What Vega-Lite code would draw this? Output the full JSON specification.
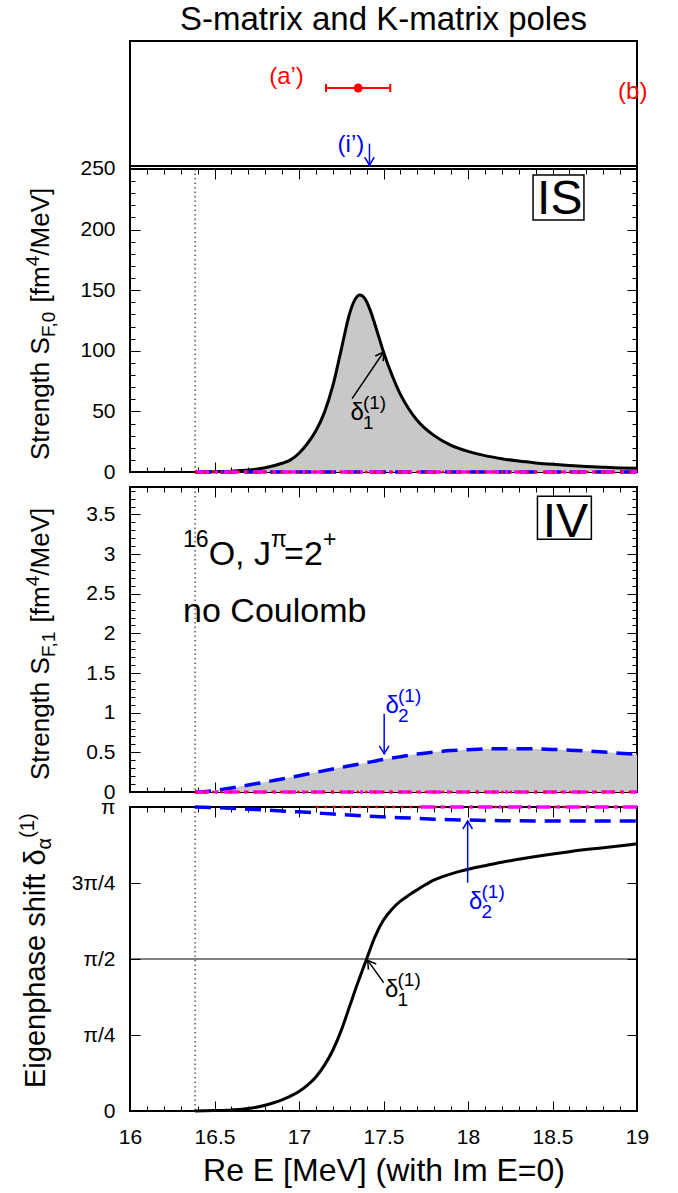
{
"$schema": "https://vega.github.io/schema/vega-lite/v6.json",
"padding": {"left": 16, "top": 3, "right": 5, "bottom": 5},
"config": {
  "font": "Liberation Sans",
  "view": {"stroke": "#000000", "strokeWidth": 2},
  "axis": {"domain": false, "grid": false, "tickColor": "#000000", "tickWidth": 1, "labelColor": "#000000", "labelFont": "Liberation Sans", "labelFontSize": 21, "labelFlush": false, "labelOverlap": false, "titleFont": "Liberation Sans", "titleFontWeight": "normal", "titleColor": "#000000", "zindex": 1},
  "text": {"font": "Liberation Sans"}
},
"datasets": {
  "is": [{"E":16.385,"v":0},{"E":16.45,"v":0.1},{"E":16.5,"v":0.3},{"E":16.6,"v":0.7},{"E":16.7,"v":1.6},{"E":16.8,"v":3.5},{"E":16.9,"v":7.2},{"E":16.95,"v":10},{"E":17.0,"v":15.5},{"E":17.05,"v":23.5},{"E":17.1,"v":34},{"E":17.15,"v":49},{"E":17.2,"v":71},{"E":17.25,"v":101},{"E":17.3,"v":131},{"E":17.33,"v":142},{"E":17.36,"v":146},{"E":17.39,"v":143},{"E":17.42,"v":134},{"E":17.46,"v":117},{"E":17.5,"v":99},{"E":17.55,"v":80},{"E":17.6,"v":64},{"E":17.65,"v":52},{"E":17.7,"v":42.5},{"E":17.8,"v":30},{"E":17.9,"v":22},{"E":18.0,"v":17},{"E":18.1,"v":13.5},{"E":18.2,"v":11},{"E":18.3,"v":9},{"E":18.4,"v":7.5},{"E":18.5,"v":6.3},{"E":18.6,"v":5.3},{"E":18.7,"v":4.5},{"E":18.8,"v":3.9},{"E":18.9,"v":3.4},{"E":19.0,"v":3.0}],
  "iv": [{"E":16.385,"v":0},{"E":16.45,"v":0.006},{"E":16.5,"v":0.018},{"E":16.6,"v":0.05},{"E":16.7,"v":0.088},{"E":16.8,"v":0.125},{"E":16.9,"v":0.165},{"E":17.0,"v":0.205},{"E":17.1,"v":0.248},{"E":17.2,"v":0.29},{"E":17.3,"v":0.33},{"E":17.4,"v":0.37},{"E":17.5,"v":0.41},{"E":17.6,"v":0.445},{"E":17.7,"v":0.478},{"E":17.8,"v":0.503},{"E":17.9,"v":0.522},{"E":18.0,"v":0.534},{"E":18.1,"v":0.542},{"E":18.2,"v":0.546},{"E":18.3,"v":0.546},{"E":18.4,"v":0.543},{"E":18.5,"v":0.537},{"E":18.6,"v":0.528},{"E":18.7,"v":0.517},{"E":18.8,"v":0.504},{"E":18.9,"v":0.49},{"E":19.0,"v":0.474}],
  "ph1": [{"E":16.385,"v":0},{"E":16.5,"v":0.0047},{"E":16.6,"v":0.011},{"E":16.7,"v":0.025},{"E":16.8,"v":0.06},{"E":16.85,"v":0.085},{"E":16.9,"v":0.116},{"E":16.95,"v":0.154},{"E":17.0,"v":0.201},{"E":17.05,"v":0.267},{"E":17.1,"v":0.352},{"E":17.15,"v":0.471},{"E":17.2,"v":0.628},{"E":17.25,"v":0.833},{"E":17.3,"v":1.084},{"E":17.35,"v":1.335},{"E":17.4,"v":1.571},{"E":17.45,"v":1.803},{"E":17.5,"v":1.973},{"E":17.55,"v":2.086},{"E":17.6,"v":2.168},{"E":17.65,"v":2.231},{"E":17.7,"v":2.287},{"E":17.75,"v":2.340},{"E":17.8,"v":2.388},{"E":17.85,"v":2.422},{"E":17.9,"v":2.450},{"E":17.95,"v":2.476},{"E":18.0,"v":2.498},{"E":18.1,"v":2.535},{"E":18.2,"v":2.570},{"E":18.3,"v":2.601},{"E":18.4,"v":2.630},{"E":18.6,"v":2.680},{"E":18.8,"v":2.721},{"E":19.0,"v":2.761}],
  "ph2": [{"E":16.385,"v":3.1416},{"E":16.5,"v":3.1353},{"E":16.6,"v":3.129},{"E":16.8,"v":3.1102},{"E":17.0,"v":3.0913},{"E":17.2,"v":3.0693},{"E":17.4,"v":3.0473},{"E":17.6,"v":3.0316},{"E":17.8,"v":3.0159},{"E":18.0,"v":3.0065},{"E":18.2,"v":3.0002},{"E":18.5,"v":2.9971},{"E":19.0,"v":2.9971}],
  "zero": [{"E":16.385,"v":0},{"E":19,"v":0}],
  "pir": [{"E":17.1,"v":3.1416},{"E":19,"v":3.1416}],
  "pim": [{"E":17.72,"v":3.1416},{"E":19,"v":3.1416}],
  "ends": [{"E":16,"v":0},{"E":19,"v":0}],
  "pole": [{"E":17.35,"lo":17.16,"hi":17.54,"y":316.8}]
},
"bounds": "flush",
"spacing": 15,
"vconcat": [
{
  "width": 507, "height": 431,
  "title": {"text": "S-matrix and K-matrix poles", "fontSize": 33, "font": "Liberation Sans", "fontWeight": "normal", "color": "#000000", "anchor": "middle", "frame": "group", "offset": 4},
  "resolve": {"axis": {"x": "independent", "y": "independent"}},
  "layer": [
    {"data": {"name": "is"}, "mark": {"type": "area", "color": "#c8c8c8", "opacity": 1, "interpolate": "monotone"},
     "encoding": {"x": {"field": "E", "type": "quantitative", "scale": {"domain": [16,19], "nice": false, "zero": false}, "axis": null},
                  "y": {"field": "v", "type": "quantitative", "scale": {"domain": [0,355.6], "nice": false, "zero": false}, "axis": null}}},
    {"data": {"values": [{}]}, "mark": {"type": "rule", "color": "#000000", "strokeWidth": 1, "strokeDash": [1.5,3]},
     "encoding": {"x": {"datum": 16.385, "type": "quantitative", "axis": null}, "y": {"datum": 0, "type": "quantitative", "axis": null}, "y2": {"datum": 250}}},
    {"data": {"name": "is"}, "mark": {"type": "line", "color": "#000000", "strokeWidth": 3, "interpolate": "monotone"},
     "encoding": {"x": {"field": "E", "type": "quantitative", "axis": null}, "y": {"field": "v", "type": "quantitative", "axis": null}}},
    {"data": {"name": "zero"}, "mark": {"type": "line", "color": "#0000ff", "strokeWidth": 3.5, "strokeDash": [16,9]},
     "encoding": {"x": {"field": "E", "type": "quantitative", "axis": null}, "y": {"field": "v", "type": "quantitative", "axis": null}}},
    {"data": {"name": "zero"}, "mark": {"type": "line", "color": "#ff00ff", "strokeWidth": 3.5, "strokeDash": [14,6,3,6]},
     "encoding": {"x": {"field": "E", "type": "quantitative", "axis": null}, "y": {"field": "v", "type": "quantitative", "axis": null}}},
    {"data": {"name": "zero"}, "mark": {"type": "line", "color": "#ff0000", "strokeWidth": 2.5, "strokeDash": [2.5,6]},
     "encoding": {"x": {"field": "E", "type": "quantitative", "axis": null}, "y": {"field": "v", "type": "quantitative", "axis": null}}},
    {"data": {"values": [{}]}, "mark": {"type": "rule", "color": "#000000", "strokeWidth": 2},
     "encoding": {"y": {"datum": 250, "type": "quantitative", "axis": null}}},
    {"data": {"values": [{}]}, "mark": {"type": "rule", "color": "#000000", "strokeWidth": 2},
     "encoding": {"y": {"datum": 252.5, "type": "quantitative", "axis": null}}},
    {"data": {"name": "pole"}, "mark": {"type": "rule", "color": "#ff0000", "strokeWidth": 2},
     "encoding": {"x": {"field": "lo", "type": "quantitative", "axis": null}, "x2": {"field": "hi"}, "y": {"field": "y", "type": "quantitative", "axis": null}}},
    {"data": {"name": "pole"}, "mark": {"type": "point", "shape": "M0,-1L0,1", "size": 64, "color": "#ff0000", "strokeWidth": 2, "filled": false, "opacity": 1},
     "encoding": {"x": {"field": "lo", "type": "quantitative", "axis": null}, "y": {"field": "y", "type": "quantitative", "axis": null}}},
    {"data": {"name": "pole"}, "mark": {"type": "point", "shape": "M0,-1L0,1", "size": 64, "color": "#ff0000", "strokeWidth": 2, "filled": false, "opacity": 1},
     "encoding": {"x": {"field": "hi", "type": "quantitative", "axis": null}, "y": {"field": "y", "type": "quantitative", "axis": null}}},
    {"data": {"name": "pole"}, "mark": {"type": "circle", "color": "#ff0000", "size": 80, "opacity": 1},
     "encoding": {"x": {"field": "E", "type": "quantitative", "axis": null}, "y": {"field": "y", "type": "quantitative", "axis": null}}},
    {"data": {"values": [{}]}, "mark": {"type": "text", "text": "(a’)", "color": "#ff0000", "fontSize": 24, "align": "center", "baseline": "middle"},
     "encoding": {"x": {"datum": 16.926, "type": "quantitative", "axis": null}, "y": {"datum": 325.9, "type": "quantitative", "axis": null}}},
    {"data": {"values": [{}]}, "mark": {"type": "text", "text": "(b)", "color": "#ff0000", "fontSize": 24, "align": "center", "baseline": "middle"},
     "encoding": {"x": {"datum": 18.975, "type": "quantitative", "axis": null}, "y": {"datum": 313.5, "type": "quantitative", "axis": null}}},
    {"data": {"values": [{}]}, "mark": {"type": "text", "text": "(i’)", "color": "#0000ff", "fontSize": 24, "align": "center", "baseline": "middle"},
     "encoding": {"x": {"datum": 17.307, "type": "quantitative", "axis": null}, "y": {"datum": 270.2, "type": "quantitative", "axis": null}}},
    {"data": {"values": [{}]}, "mark": {"type": "rule", "color": "#0000ff", "strokeWidth": 1.5},
     "encoding": {"x": {"datum": 17.417, "type": "quantitative", "axis": null}, "y": {"datum": 270.9, "type": "quantitative", "axis": null}, "y2": {"datum": 253.1}}},
    {"data": {"values": [{}]}, "mark": {"type": "point", "shape": "M-0.6,-1L0,0L0.6,-1", "size": 256, "angle": 0, "color": "#0000ff", "strokeWidth": 1.5, "filled": false, "opacity": 1},
     "encoding": {"x": {"datum": 17.417, "type": "quantitative", "axis": null}, "y": {"datum": 253.1, "type": "quantitative", "axis": null}}},
    {"data": {"values": [{}]}, "mark": {"type": "rect", "fill": "#ffffff", "stroke": "#000000", "strokeWidth": 1.5},
     "encoding": {"x": {"datum": 18.385, "type": "quantitative", "axis": null}, "x2": {"datum": 18.686}, "y": {"datum": 207.9, "type": "quantitative", "axis": null}, "y2": {"datum": 245.05}}},
    {"data": {"values": [{}]}, "mark": {"type": "text", "text": "IS", "color": "#000000", "fontSize": 48, "align": "center", "baseline": "alphabetic"},
     "encoding": {"x": {"datum": 18.543, "type": "quantitative", "axis": null}, "y": {"datum": 213.1, "type": "quantitative", "axis": null}}},
    {"data": {"values": [{}]}, "mark": {"type": "text", "text": "δ", "color": "#000000", "fontSize": 24, "align": "left", "baseline": "alphabetic"},
     "encoding": {"x": {"datum": 17.304, "type": "quantitative", "axis": null}, "y": {"datum": 42.9, "type": "quantitative", "axis": null}}},
    {"data": {"values": [{}]}, "mark": {"type": "text", "text": "1", "color": "#000000", "fontSize": 19, "align": "left", "baseline": "alphabetic", "dx": 12.5, "dy": 9},
     "encoding": {"x": {"datum": 17.304, "type": "quantitative", "axis": null}, "y": {"datum": 42.9, "type": "quantitative", "axis": null}}},
    {"data": {"values": [{}]}, "mark": {"type": "text", "text": "(1)", "color": "#000000", "fontSize": 19, "align": "left", "baseline": "alphabetic", "dx": 12.5, "dy": -11},
     "encoding": {"x": {"datum": 17.304, "type": "quantitative", "axis": null}, "y": {"datum": 42.9, "type": "quantitative", "axis": null}}},
    {"data": {"values": [{}]}, "mark": {"type": "rule", "color": "#000000", "strokeWidth": 1.5},
     "encoding": {"x": {"datum": 17.314, "type": "quantitative", "axis": null}, "x2": {"datum": 17.501}, "y": {"datum": 60.5, "type": "quantitative", "axis": null}, "y2": {"datum": 99.0}}},
    {"data": {"values": [{}]}, "mark": {"type": "point", "shape": "M-0.6,-1L0,0L0.6,-1", "size": 256, "angle": 214, "color": "#000000", "strokeWidth": 1.5, "filled": false, "opacity": 1},
     "encoding": {"x": {"datum": 17.501, "type": "quantitative", "axis": null}, "y": {"datum": 99.0, "type": "quantitative", "axis": null}}},
    {"data": {"values": [{}]}, "mark": {"type": "text", "text": "Strength S", "color": "#000000", "fontSize": 26, "angle": 270, "align": "left", "baseline": "alphabetic", "dx": 12, "dy": -81},
     "encoding": {"x": {"datum": 16, "type": "quantitative", "axis": null}, "y": {"datum": 0, "type": "quantitative", "axis": null}}},
    {"data": {"values": [{}]}, "mark": {"type": "text", "text": "F,0", "color": "#000000", "fontSize": 19, "angle": 270, "align": "left", "baseline": "alphabetic", "dx": 134.9, "dy": -75},
     "encoding": {"x": {"datum": 16, "type": "quantitative", "axis": null}, "y": {"datum": 0, "type": "quantitative", "axis": null}}},
    {"data": {"values": [{}]}, "mark": {"type": "text", "text": "[fm", "color": "#000000", "fontSize": 26, "angle": 270, "align": "left", "baseline": "alphabetic", "dx": 169.6, "dy": -81},
     "encoding": {"x": {"datum": 16, "type": "quantitative", "axis": null}, "y": {"datum": 0, "type": "quantitative", "axis": null}}},
    {"data": {"values": [{}]}, "mark": {"type": "text", "text": "4", "color": "#000000", "fontSize": 19, "angle": 270, "align": "left", "baseline": "alphabetic", "dx": 205.7, "dy": -91},
     "encoding": {"x": {"datum": 16, "type": "quantitative", "axis": null}, "y": {"datum": 0, "type": "quantitative", "axis": null}}},
    {"data": {"values": [{}]}, "mark": {"type": "text", "text": "/MeV]", "color": "#000000", "fontSize": 26, "angle": 270, "align": "left", "baseline": "alphabetic", "dx": 216.3, "dy": -81},
     "encoding": {"x": {"datum": 16, "type": "quantitative", "axis": null}, "y": {"datum": 0, "type": "quantitative", "axis": null}}},
    {"data": {"name": "ends"}, "mark": {"type": "point", "opacity": 0},
     "encoding": {"x": {"field": "E", "type": "quantitative", "scale": {"domain": [16,19], "nice": false, "zero": false}, "axis": {"orient": "bottom", "values": [16,16.5,17,17.5,18,18.5,19], "tickSize": -10, "labels": false, "title": null}},
                  "y": {"field": "v", "type": "quantitative", "scale": {"domain": [0,355.6], "nice": false, "zero": false}, "axis": {"orient": "left", "values": [0,50,100,150,200,250], "tickSize": -10, "labelPadding": 25, "labelExpr": "'' + datum.value", "title": null}}}},
    {"data": {"name": "ends"}, "mark": {"type": "point", "opacity": 0},
     "encoding": {"x": {"field": "E", "type": "quantitative", "axis": {"orient": "bottom", "values": [16.1,16.2,16.3,16.4,16.6,16.7,16.8,16.9,17.1,17.2,17.3,17.4,17.6,17.7,17.8,17.9,18.1,18.2,18.3,18.4,18.6,18.7,18.8,18.9], "tickSize": -5, "labels": false, "title": null}},
                  "y": {"field": "v", "type": "quantitative", "axis": {"orient": "left", "values": [10,20,30,40,60,70,80,90,110,120,130,140,160,170,180,190,210,220,230,240], "tickSize": -5, "labels": false, "title": null}}}},
    {"data": {"name": "ends"}, "mark": {"type": "point", "opacity": 0},
     "encoding": {"x": {"field": "E", "type": "quantitative", "axis": {"orient": "top", "offset": -128, "values": [16,16.5,17,17.5,18,18.5,19], "tickSize": -10, "labels": false, "title": null}},
                  "y": {"field": "v", "type": "quantitative", "axis": {"orient": "right", "values": [0,50,100,150,200,250], "tickSize": -10, "labels": false, "title": null}}}},
    {"data": {"name": "ends"}, "mark": {"type": "point", "opacity": 0},
     "encoding": {"x": {"field": "E", "type": "quantitative", "axis": {"orient": "top", "offset": -128, "values": [16.1,16.2,16.3,16.4,16.6,16.7,16.8,16.9,17.1,17.2,17.3,17.4,17.6,17.7,17.8,17.9,18.1,18.2,18.3,18.4,18.6,18.7,18.8,18.9], "tickSize": -5, "labels": false, "title": null}},
                  "y": {"field": "v", "type": "quantitative", "axis": {"orient": "right", "values": [10,20,30,40,60,70,80,90,110,120,130,140,160,170,180,190,210,220,230,240], "tickSize": -5, "labels": false, "title": null}}}}
  ]
},
{
  "width": 507, "height": 305,
  "resolve": {"axis": {"x": "independent", "y": "independent"}},
  "layer": [
    {"data": {"name": "iv"}, "mark": {"type": "area", "color": "#c8c8c8", "opacity": 1, "interpolate": "monotone"},
     "encoding": {"x": {"field": "E", "type": "quantitative", "scale": {"domain": [16,19], "nice": false, "zero": false}, "axis": null},
                  "y": {"field": "v", "type": "quantitative", "scale": {"domain": [0,3.846], "nice": false, "zero": false}, "axis": null}}},
    {"data": {"values": [{}]}, "mark": {"type": "rule", "color": "#000000", "strokeWidth": 1, "strokeDash": [1.5,3]},
     "encoding": {"x": {"datum": 16.385, "type": "quantitative", "axis": null}}},
    {"data": {"name": "iv"}, "mark": {"type": "line", "color": "#0000ff", "strokeWidth": 3.5, "strokeDash": [16,9], "interpolate": "monotone"},
     "encoding": {"x": {"field": "E", "type": "quantitative", "axis": null}, "y": {"field": "v", "type": "quantitative", "axis": null}}},
    {"data": {"name": "zero"}, "mark": {"type": "line", "color": "#ff00ff", "strokeWidth": 3.5, "strokeDash": [14,6,3,6]},
     "encoding": {"x": {"field": "E", "type": "quantitative", "axis": null}, "y": {"field": "v", "type": "quantitative", "axis": null}}},
    {"data": {"name": "zero"}, "mark": {"type": "line", "color": "#ff0000", "strokeWidth": 2.5, "strokeDash": [2.5,6]},
     "encoding": {"x": {"field": "E", "type": "quantitative", "axis": null}, "y": {"field": "v", "type": "quantitative", "axis": null}}},
    {"data": {"values": [{}]}, "mark": {"type": "rect", "fill": "#ffffff", "stroke": "#000000", "strokeWidth": 1.5},
     "encoding": {"x": {"datum": 18.411, "type": "quantitative", "axis": null}, "x2": {"datum": 18.73}, "y": {"datum": 3.186, "type": "quantitative", "axis": null}, "y2": {"datum": 3.728}}},
    {"data": {"values": [{}]}, "mark": {"type": "text", "text": "IV", "color": "#000000", "fontSize": 48, "align": "center", "baseline": "alphabetic"},
     "encoding": {"x": {"datum": 18.576, "type": "quantitative", "axis": null}, "y": {"datum": 3.212, "type": "quantitative", "axis": null}}},
    {"data": {"values": [{}]}, "mark": {"type": "text", "text": "16", "color": "#000000", "fontSize": 23, "align": "left", "baseline": "alphabetic", "dy": -18},
     "encoding": {"x": {"datum": 16.314, "type": "quantitative", "axis": null}, "y": {"datum": 2.859, "type": "quantitative", "axis": null}}},
    {"data": {"values": [{}]}, "mark": {"type": "text", "text": "O, J", "color": "#000000", "fontSize": 34, "align": "left", "baseline": "alphabetic", "dx": 25.6},
     "encoding": {"x": {"datum": 16.314, "type": "quantitative", "axis": null}, "y": {"datum": 2.859, "type": "quantitative", "axis": null}}},
    {"data": {"values": [{}]}, "mark": {"type": "text", "text": "π", "color": "#000000", "fontSize": 23, "align": "left", "baseline": "alphabetic", "dx": 88, "dy": -18},
     "encoding": {"x": {"datum": 16.314, "type": "quantitative", "axis": null}, "y": {"datum": 2.859, "type": "quantitative", "axis": null}}},
    {"data": {"values": [{}]}, "mark": {"type": "text", "text": "=2", "color": "#000000", "fontSize": 34, "align": "left", "baseline": "alphabetic", "dx": 101},
     "encoding": {"x": {"datum": 16.314, "type": "quantitative", "axis": null}, "y": {"datum": 2.859, "type": "quantitative", "axis": null}}},
    {"data": {"values": [{}]}, "mark": {"type": "text", "text": "+", "color": "#000000", "fontSize": 23, "align": "left", "baseline": "alphabetic", "dx": 140, "dy": -18},
     "encoding": {"x": {"datum": 16.314, "type": "quantitative", "axis": null}, "y": {"datum": 2.859, "type": "quantitative", "axis": null}}},
    {"data": {"values": [{}]}, "mark": {"type": "text", "text": "no Coulomb", "color": "#000000", "fontSize": 34, "align": "left", "baseline": "alphabetic"},
     "encoding": {"x": {"datum": 16.314, "type": "quantitative", "axis": null}, "y": {"datum": 2.141, "type": "quantitative", "axis": null}}},
    {"data": {"values": [{}]}, "mark": {"type": "text", "text": "δ", "color": "#0000ff", "fontSize": 24, "align": "left", "baseline": "alphabetic"},
     "encoding": {"x": {"datum": 17.512, "type": "quantitative", "axis": null}, "y": {"datum": 0.995, "type": "quantitative", "axis": null}}},
    {"data": {"values": [{}]}, "mark": {"type": "text", "text": "2", "color": "#0000ff", "fontSize": 19, "align": "left", "baseline": "alphabetic", "dx": 12.5, "dy": 9},
     "encoding": {"x": {"datum": 17.512, "type": "quantitative", "axis": null}, "y": {"datum": 0.995, "type": "quantitative", "axis": null}}},
    {"data": {"values": [{}]}, "mark": {"type": "text", "text": "(1)", "color": "#0000ff", "fontSize": 19, "align": "left", "baseline": "alphabetic", "dx": 12.5, "dy": -11},
     "encoding": {"x": {"datum": 17.512, "type": "quantitative", "axis": null}, "y": {"datum": 0.995, "type": "quantitative", "axis": null}}},
    {"data": {"values": [{}]}, "mark": {"type": "rule", "color": "#0000ff", "strokeWidth": 1.5},
     "encoding": {"x": {"datum": 17.504, "type": "quantitative", "axis": null}, "y": {"datum": 0.986, "type": "quantitative", "axis": null}, "y2": {"datum": 0.482}}},
    {"data": {"values": [{}]}, "mark": {"type": "point", "shape": "M-0.6,-1L0,0L0.6,-1", "size": 256, "angle": 0, "color": "#0000ff", "strokeWidth": 1.5, "filled": false, "opacity": 1},
     "encoding": {"x": {"datum": 17.504, "type": "quantitative", "axis": null}, "y": {"datum": 0.482, "type": "quantitative", "axis": null}}},
    {"data": {"values": [{}]}, "mark": {"type": "text", "text": "Strength S", "color": "#000000", "fontSize": 26, "angle": 270, "align": "left", "baseline": "alphabetic", "dx": 12, "dy": -81},
     "encoding": {"x": {"datum": 16, "type": "quantitative", "axis": null}, "y": {"datum": 0, "type": "quantitative", "axis": null}}},
    {"data": {"values": [{}]}, "mark": {"type": "text", "text": "F,1", "color": "#000000", "fontSize": 19, "angle": 270, "align": "left", "baseline": "alphabetic", "dx": 134.9, "dy": -75},
     "encoding": {"x": {"datum": 16, "type": "quantitative", "axis": null}, "y": {"datum": 0, "type": "quantitative", "axis": null}}},
    {"data": {"values": [{}]}, "mark": {"type": "text", "text": "[fm", "color": "#000000", "fontSize": 26, "angle": 270, "align": "left", "baseline": "alphabetic", "dx": 169.6, "dy": -81},
     "encoding": {"x": {"datum": 16, "type": "quantitative", "axis": null}, "y": {"datum": 0, "type": "quantitative", "axis": null}}},
    {"data": {"values": [{}]}, "mark": {"type": "text", "text": "4", "color": "#000000", "fontSize": 19, "angle": 270, "align": "left", "baseline": "alphabetic", "dx": 205.7, "dy": -91},
     "encoding": {"x": {"datum": 16, "type": "quantitative", "axis": null}, "y": {"datum": 0, "type": "quantitative", "axis": null}}},
    {"data": {"values": [{}]}, "mark": {"type": "text", "text": "/MeV]", "color": "#000000", "fontSize": 26, "angle": 270, "align": "left", "baseline": "alphabetic", "dx": 216.3, "dy": -81},
     "encoding": {"x": {"datum": 16, "type": "quantitative", "axis": null}, "y": {"datum": 0, "type": "quantitative", "axis": null}}},
    {"data": {"name": "ends"}, "mark": {"type": "point", "opacity": 0},
     "encoding": {"x": {"field": "E", "type": "quantitative", "scale": {"domain": [16,19], "nice": false, "zero": false}, "axis": {"orient": "bottom", "values": [16,16.5,17,17.5,18,18.5,19], "tickSize": -10, "labels": false, "title": null}},
                  "y": {"field": "v", "type": "quantitative", "scale": {"domain": [0,3.846], "nice": false, "zero": false}, "axis": {"orient": "left", "values": [0,0.5,1,1.5,2,2.5,3,3.5], "tickSize": -10, "labelPadding": 25, "labelExpr": "'' + datum.value", "title": null}}}},
    {"data": {"name": "ends"}, "mark": {"type": "point", "opacity": 0},
     "encoding": {"x": {"field": "E", "type": "quantitative", "axis": {"orient": "bottom", "values": [16.1,16.2,16.3,16.4,16.6,16.7,16.8,16.9,17.1,17.2,17.3,17.4,17.6,17.7,17.8,17.9,18.1,18.2,18.3,18.4,18.6,18.7,18.8,18.9], "tickSize": -5, "labels": false, "title": null}},
                  "y": {"field": "v", "type": "quantitative", "axis": {"orient": "left", "values": [0.1,0.2,0.3,0.4,0.6,0.7,0.8,0.9,1.1,1.2,1.3,1.4,1.6,1.7,1.8,1.9,2.1,2.2,2.3,2.4,2.6,2.7,2.8,2.9,3.1,3.2,3.3,3.4,3.6,3.7,3.8], "tickSize": -5, "labels": false, "title": null}}}},
    {"data": {"name": "ends"}, "mark": {"type": "point", "opacity": 0},
     "encoding": {"x": {"field": "E", "type": "quantitative", "axis": {"orient": "top", "values": [16,16.5,17,17.5,18,18.5,19], "tickSize": -10, "labels": false, "title": null}},
                  "y": {"field": "v", "type": "quantitative", "axis": {"orient": "right", "values": [0,0.5,1,1.5,2,2.5,3,3.5], "tickSize": -10, "labels": false, "title": null}}}},
    {"data": {"name": "ends"}, "mark": {"type": "point", "opacity": 0},
     "encoding": {"x": {"field": "E", "type": "quantitative", "axis": {"orient": "top", "values": [16.1,16.2,16.3,16.4,16.6,16.7,16.8,16.9,17.1,17.2,17.3,17.4,17.6,17.7,17.8,17.9,18.1,18.2,18.3,18.4,18.6,18.7,18.8,18.9], "tickSize": -5, "labels": false, "title": null}},
                  "y": {"field": "v", "type": "quantitative", "axis": {"orient": "right", "values": [0.1,0.2,0.3,0.4,0.6,0.7,0.8,0.9,1.1,1.2,1.3,1.4,1.6,1.7,1.8,1.9,2.1,2.2,2.3,2.4,2.6,2.7,2.8,2.9,3.1,3.2,3.3,3.4,3.6,3.7,3.8], "tickSize": -5, "labels": false, "title": null}}}}
  ]
},
{
  "width": 507, "height": 304,
  "resolve": {"axis": {"x": "independent", "y": "independent"}},
  "layer": [
    {"data": {"values": [{}]}, "mark": {"type": "rule", "color": "#000000", "strokeWidth": 1, "strokeDash": [1.5,3]},
     "encoding": {"x": {"datum": 16.385, "type": "quantitative", "scale": {"domain": [16,19], "nice": false, "zero": false}, "axis": null}}},
    {"data": {"values": [{}]}, "mark": {"type": "rule", "color": "#000000", "strokeWidth": 1},
     "encoding": {"y": {"datum": 1.5707963, "type": "quantitative", "scale": {"domain": [0,3.1415927], "nice": false, "zero": false}, "axis": null}}},
    {"data": {"name": "ph1"}, "mark": {"type": "line", "color": "#000000", "strokeWidth": 3, "interpolate": "monotone"},
     "encoding": {"x": {"field": "E", "type": "quantitative", "axis": null}, "y": {"field": "v", "type": "quantitative", "axis": null}}},
    {"data": {"name": "ph2"}, "mark": {"type": "line", "color": "#0000ff", "strokeWidth": 3.5, "strokeDash": [16,9], "interpolate": "monotone"},
     "encoding": {"x": {"field": "E", "type": "quantitative", "axis": null}, "y": {"field": "v", "type": "quantitative", "axis": null}}},
    {"data": {"name": "pir"}, "mark": {"type": "line", "color": "#ff0000", "strokeWidth": 2.5, "strokeDash": [2.5,6]},
     "encoding": {"x": {"field": "E", "type": "quantitative", "axis": null}, "y": {"field": "v", "type": "quantitative", "axis": null}}},
    {"data": {"name": "pim"}, "mark": {"type": "line", "color": "#ff00ff", "strokeWidth": 3.5, "strokeDash": [14,6,3,6]},
     "encoding": {"x": {"field": "E", "type": "quantitative", "axis": null}, "y": {"field": "v", "type": "quantitative", "axis": null}}},
    {"data": {"values": [{}]}, "mark": {"type": "text", "text": "δ", "color": "#000000", "fontSize": 24, "align": "left", "baseline": "alphabetic"},
     "encoding": {"x": {"datum": 17.509, "type": "quantitative", "axis": null}, "y": {"datum": 1.178, "type": "quantitative", "axis": null}}},
    {"data": {"values": [{}]}, "mark": {"type": "text", "text": "1", "color": "#000000", "fontSize": 19, "align": "left", "baseline": "alphabetic", "dx": 12.5, "dy": 9},
     "encoding": {"x": {"datum": 17.509, "type": "quantitative", "axis": null}, "y": {"datum": 1.178, "type": "quantitative", "axis": null}}},
    {"data": {"values": [{}]}, "mark": {"type": "text", "text": "(1)", "color": "#000000", "fontSize": 19, "align": "left", "baseline": "alphabetic", "dx": 12.5, "dy": -11},
     "encoding": {"x": {"datum": 17.509, "type": "quantitative", "axis": null}, "y": {"datum": 1.178, "type": "quantitative", "axis": null}}},
    {"data": {"values": [{}]}, "mark": {"type": "rule", "color": "#000000", "strokeWidth": 1.5},
     "encoding": {"x": {"datum": 17.501, "type": "quantitative", "axis": null}, "x2": {"datum": 17.4065}, "y": {"datum": 1.326, "type": "quantitative", "axis": null}, "y2": {"datum": 1.557}}},
    {"data": {"values": [{}]}, "mark": {"type": "point", "shape": "M-0.6,-1L0,0L0.6,-1", "size": 256, "angle": 144.5, "color": "#000000", "strokeWidth": 1.5, "filled": false, "opacity": 1},
     "encoding": {"x": {"datum": 17.4065, "type": "quantitative", "axis": null}, "y": {"datum": 1.557, "type": "quantitative", "axis": null}}},
    {"data": {"values": [{}]}, "mark": {"type": "text", "text": "δ", "color": "#0000ff", "fontSize": 24, "align": "left", "baseline": "alphabetic"},
     "encoding": {"x": {"datum": 18.006, "type": "quantitative", "axis": null}, "y": {"datum": 2.0875, "type": "quantitative", "axis": null}}},
    {"data": {"values": [{}]}, "mark": {"type": "text", "text": "2", "color": "#0000ff", "fontSize": 19, "align": "left", "baseline": "alphabetic", "dx": 12.5, "dy": 9},
     "encoding": {"x": {"datum": 18.006, "type": "quantitative", "axis": null}, "y": {"datum": 2.0875, "type": "quantitative", "axis": null}}},
    {"data": {"values": [{}]}, "mark": {"type": "text", "text": "(1)", "color": "#0000ff", "fontSize": 19, "align": "left", "baseline": "alphabetic", "dx": 12.5, "dy": -11},
     "encoding": {"x": {"datum": 18.006, "type": "quantitative", "axis": null}, "y": {"datum": 2.0875, "type": "quantitative", "axis": null}}},
    {"data": {"values": [{}]}, "mark": {"type": "rule", "color": "#0000ff", "strokeWidth": 1.5},
     "encoding": {"x": {"datum": 17.998, "type": "quantitative", "axis": null}, "y": {"datum": 2.359, "type": "quantitative", "axis": null}, "y2": {"datum": 2.997}}},
    {"data": {"values": [{}]}, "mark": {"type": "point", "shape": "M-0.6,-1L0,0L0.6,-1", "size": 256, "angle": 180, "color": "#0000ff", "strokeWidth": 1.5, "filled": false, "opacity": 1},
     "encoding": {"x": {"datum": 17.998, "type": "quantitative", "axis": null}, "y": {"datum": 2.997, "type": "quantitative", "axis": null}}},
    {"data": {"values": [{}]}, "mark": {"type": "text", "text": "Eigenphase shift δ", "color": "#000000", "fontSize": 29, "angle": 270, "align": "left", "baseline": "alphabetic", "dx": 23, "dy": -85},
     "encoding": {"x": {"datum": 16, "type": "quantitative", "axis": null}, "y": {"datum": 0, "type": "quantitative", "axis": null}}},
    {"data": {"values": [{}]}, "mark": {"type": "text", "text": "α", "color": "#000000", "fontSize": 20, "angle": 270, "align": "left", "baseline": "alphabetic", "dx": 261.6, "dy": -79},
     "encoding": {"x": {"datum": 16, "type": "quantitative", "axis": null}, "y": {"datum": 0, "type": "quantitative", "axis": null}}},
    {"data": {"values": [{}]}, "mark": {"type": "text", "text": "(1)", "color": "#000000", "fontSize": 20, "angle": 270, "align": "left", "baseline": "alphabetic", "dx": 273.2, "dy": -96},
     "encoding": {"x": {"datum": 16, "type": "quantitative", "axis": null}, "y": {"datum": 0, "type": "quantitative", "axis": null}}},
    {"data": {"name": "ends"}, "mark": {"type": "point", "opacity": 0},
     "encoding": {"x": {"field": "E", "type": "quantitative", "scale": {"domain": [16,19], "nice": false, "zero": false}, "axis": {"orient": "bottom", "values": [16,16.5,17,17.5,18,18.5,19], "tickSize": -10, "labels": true, "labelPadding": 25, "format": "~g", "title": "Re E [MeV] (with Im E=0)", "titleFontSize": 32, "titlePadding": 8}},
                  "y": {"field": "v", "type": "quantitative", "scale": {"domain": [0,3.1415927], "nice": false, "zero": false}, "axis": {"orient": "left", "values": [0,0.7853982,1.5707963,2.3561945,3.1415927], "tickSize": -10, "labelPadding": 25, "labelExpr": "datum.value < 0.1 ? '0' : datum.value < 1 ? 'π/4' : datum.value < 2 ? 'π/2' : datum.value < 3 ? '3π/4' : 'π'", "title": null}}}},
    {"data": {"name": "ends"}, "mark": {"type": "point", "opacity": 0},
     "encoding": {"x": {"field": "E", "type": "quantitative", "axis": {"orient": "bottom", "values": [16.1,16.2,16.3,16.4,16.6,16.7,16.8,16.9,17.1,17.2,17.3,17.4,17.6,17.7,17.8,17.9,18.1,18.2,18.3,18.4,18.6,18.7,18.8,18.9], "tickSize": -5, "labels": false, "title": null}},
                  "y": {"field": "v", "type": "quantitative", "axis": null}}},
    {"data": {"name": "ends"}, "mark": {"type": "point", "opacity": 0},
     "encoding": {"x": {"field": "E", "type": "quantitative", "axis": {"orient": "top", "values": [16,16.5,17,17.5,18,18.5,19], "tickSize": -10, "labels": false, "title": null}},
                  "y": {"field": "v", "type": "quantitative", "axis": {"orient": "right", "values": [0,0.7853982,1.5707963,2.3561945,3.1415927], "tickSize": -10, "labels": false, "title": null}}}},
    {"data": {"name": "ends"}, "mark": {"type": "point", "opacity": 0},
     "encoding": {"x": {"field": "E", "type": "quantitative", "axis": {"orient": "top", "values": [16.1,16.2,16.3,16.4,16.6,16.7,16.8,16.9,17.1,17.2,17.3,17.4,17.6,17.7,17.8,17.9,18.1,18.2,18.3,18.4,18.6,18.7,18.8,18.9], "tickSize": -5, "labels": false, "title": null}},
                  "y": {"field": "v", "type": "quantitative", "axis": null}}}
  ]
}
]
}
